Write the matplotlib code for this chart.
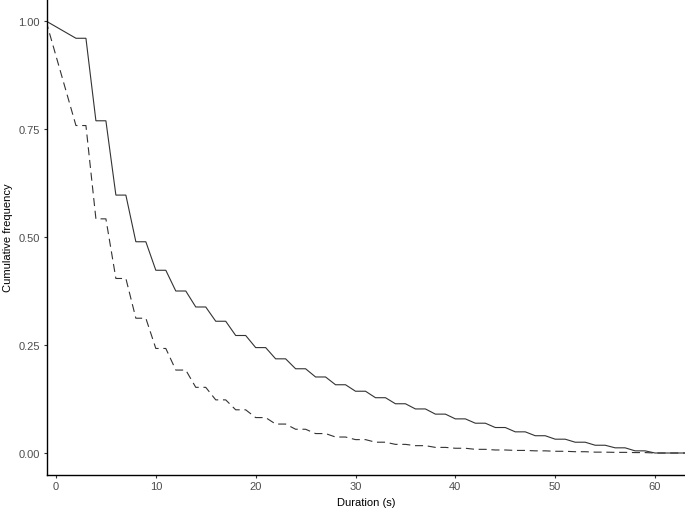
import matplotlib
matplotlib.use("Agg")
import matplotlib.pyplot as plt
import numpy as np

# step values; each level holds from x to x+1
step_start = np.arange(2, 62, 2)
solid_vals = [0.960, 0.769, 0.597, 0.489, 0.423, 0.375, 0.338, 0.305, 0.272, 0.244,
              0.218, 0.195, 0.176, 0.158, 0.143, 0.128, 0.114, 0.102, 0.090, 0.079,
              0.069, 0.059, 0.049, 0.040, 0.032, 0.025, 0.018, 0.012, 0.005, 0.000]
dashed_vals = [0.758, 0.542, 0.404, 0.312, 0.242, 0.192, 0.152, 0.123, 0.100, 0.082,
               0.067, 0.055, 0.045, 0.037, 0.031, 0.025, 0.020, 0.017, 0.013, 0.011,
               0.0085, 0.007, 0.006, 0.005, 0.004, 0.003, 0.002, 0.0015, 0.001, 0.000]
start_x, start_y = -1, 1.0
end_x = 63

x_ticks = [0, 10, 20, 30, 40, 50, 60]
y_ticks = [0.00, 0.25, 0.50, 0.75, 1.00]


def build_curve(vals):
    xs = np.column_stack([step_start, step_start + 1]).ravel()
    ys = np.repeat(vals, 2)
    xs = np.concatenate([[start_x], xs, [end_x]])
    ys = np.concatenate([[start_y], ys, [vals[-1]]])
    return xs, ys


plt.rcParams['font.family'] = ['Liberation Sans', 'DejaVu Sans']
plt.rcParams['lines.scale_dashes'] = False

fig = plt.figure(figsize=(6.85, 5.1), dpi=100)
ax = fig.add_axes([0.0686, 0.0676, 0.9314, 0.9324])

line_col = '#333333'
xs, ys = build_curve(solid_vals)
ax.plot(xs, ys, color=line_col, linewidth=0.8, solid_joinstyle='miter')
xs, ys = build_curve(dashed_vals)
ax.plot(xs, ys, color=line_col, linewidth=0.8, linestyle=(0, (5.8, 3.4)))

ax.set_xlim(-0.9, 63)
ax.set_ylim(-0.0498, 1.0509)
ax.set_xticks(x_ticks)
ax.set_yticks(y_ticks)
ax.set_yticklabels([f"{v:.2f}" for v in y_ticks])

for side in ['top', 'right']:
    ax.spines[side].set_visible(False)
for side in ['left', 'bottom']:
    ax.spines[side].set_linewidth(1.0)
    ax.spines[side].set_color('black')

ax.tick_params(axis='both', length=2.5, width=0.8, color='#333333',
               labelsize=8, labelcolor='#4d4d4d', pad=2.5)

ax.set_xlabel("Duration (s)", fontsize=8, labelpad=4)
ax.set_ylabel("Cumulative frequency", fontsize=8, labelpad=4)

fig.savefig('out.png', dpi=100)
